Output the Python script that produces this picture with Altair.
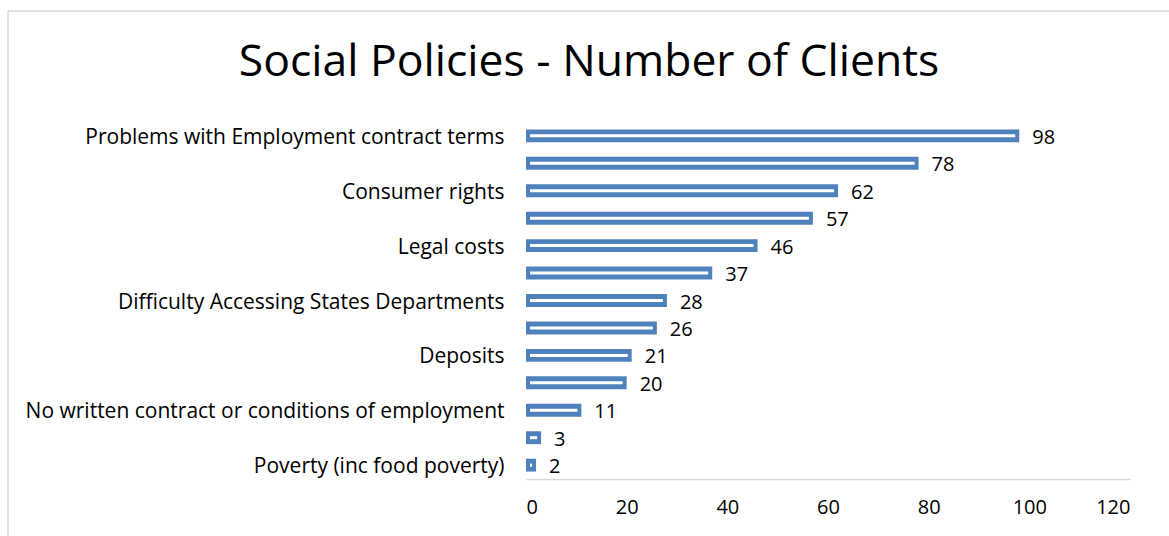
import altair as alt
import pandas as pd

categories = [
    "Problems with Employment contract terms",
    "",
    "Consumer rights",
    "",
    "Legal costs",
    "",
    "Difficulty Accessing States Departments",
    "",
    "Deposits",
    "",
    "No written contract or conditions of employment",
    "",
    "Poverty (inc food poverty)",
]
values = [98, 78, 62, 57, 46, 37, 28, 26, 21, 20, 11, 3, 2]
x_ticks = [0, 20, 40, 60, 80, 100, 120]
title_text = "Social Policies - Number of Clients"

df = pd.DataFrame({"rank": list(range(len(values))), "value": values})
df["label"] = df["value"].astype(str)

W, H = 604, 357
LEFT, TOP = 526, 122
FONT = "Open Sans"
FS = 20
BLUE = "#4F81BD"

label_array = "[" + ",".join("'" + c.replace("'", "\\'") + "'" for c in categories) + "]"

y_enc = alt.Y(
    "rank:O",
    title=None,
    axis=alt.Axis(
        labelExpr=label_array + "[datum.value]",
        domain=False,
        ticks=False,
        labelPadding=22,
        labelOffset=2,
        labelFont=FONT,
        labelFontSize=21,
        labelColor="#000000",
        labelLimit=600,
    ),
    scale=alt.Scale(paddingInner=0.53, paddingOuter=0.27),
)
x_enc = alt.X(
    "value:Q",
    title=None,
    scale=alt.Scale(domain=[0, 120], nice=False),
    axis=alt.Axis(
        values=x_ticks,
        grid=False,
        ticks=False,
        domainColor="#D9D9D9",
        domainWidth=1.5,
        labelPadding=18,
        labelFont=FONT,
        labelFontSize=FS,
        labelColor="#000000",
    ),
)

base = alt.Chart(df)

bars = base.mark_bar(color=BLUE).encode(x=x_enc, y=y_enc)

inner = base.mark_bar(color="#FFFFFF", height=3, xOffset=4, x2Offset=-4).encode(
    x=alt.X("zero:Q"), x2="value:Q", y="rank:O"
).transform_calculate(zero="0")

text = base.mark_text(
    align="left", baseline="middle", dx=13, dy=2, font=FONT, fontSize=FS, color="#000000"
).encode(x="value:Q", y="rank:O", text="label:N")

one = pd.DataFrame({"k": [0]})
frame_left = alt.Chart(one).mark_rule(color="#D9D9D9", strokeWidth=1.5).encode(
    x=alt.value(8 - LEFT), y=alt.value(11 - TOP), y2=alt.value(600)
)
frame_top = alt.Chart(one).mark_rule(color="#D9D9D9", strokeWidth=1.5).encode(
    x=alt.value(8 - LEFT), x2=alt.value(1200), y=alt.value(11 - TOP)
)
title = alt.Chart(one).mark_text(
    text=title_text, font=FONT, fontSize=44.5, color="#000000",
    align="center", baseline="middle",
).encode(x=alt.value(589 - LEFT), y=alt.value(63 - TOP))

chart = (
    alt.layer(frame_left, frame_top, title, bars, inner, text)
    .properties(
        width=W,
        height=H,
        autosize=alt.AutoSizeParams(type="none"),
        padding={"left": LEFT, "top": TOP, "right": 1169 - LEFT - W, "bottom": 536 - TOP - H},
        background="#FFFFFF",
    )
    .configure_view(stroke=None)
)

chart.save("out.html", embed_options={"renderer": "svg", "actions": False})
